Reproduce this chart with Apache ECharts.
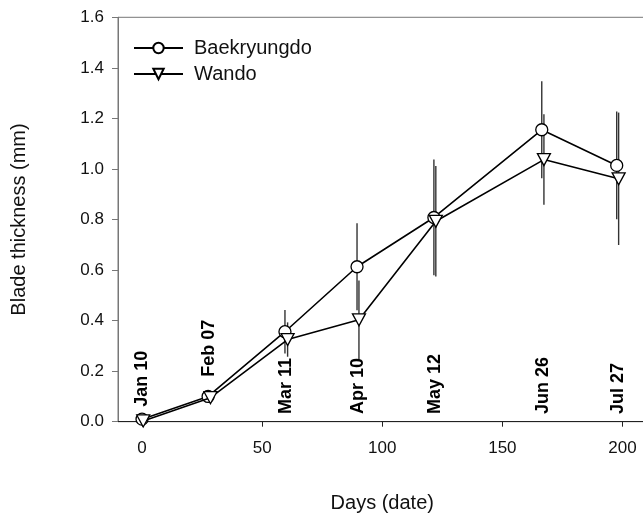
<!DOCTYPE html>
<html><head><meta charset="utf-8">
<script src="https://cdn.jsdelivr.net/npm/echarts@6/dist/echarts.min.js"></script>
<style>html,body{margin:0;padding:0;background:#fff}#c{width:643px;height:517px}</style>
</head><body><div id="c"></div>
<script>
const dateLabels = ['Jan 10','Feb 07','Mar 11','Apr 10','May 12','Jun 26','Jul 27'];
const dateDays = [0,28,60,90,122,167,198];
const dateLabelY = [0.059,0.178,0.03,0.03,0.03,0.03,0.03];
const baekDays = [0,27.5,59.5,89.5,121.5,166.4,197.6];
const baekMean = [0.01,0.10,0.356,0.613,0.808,1.155,1.014];
const baekErr  = [0.004,0.01,0.086,0.172,0.229,0.192,0.213];
const wandoDays = [0.5,28.5,60.6,90.3,122.3,167.3,198.4];
const wandoMean = [0.003,0.095,0.325,0.403,0.793,1.037,0.961];
const wandoErr  = [0.004,0.01,0.068,0.156,0.219,0.179,0.262];
const xTicks = [0,50,100,150,200];

const FONT = '"Liberation Sans", Arial, sans-serif';
const chart = echarts.init(document.getElementById('c'), null, {renderer:'canvas'});

function errSeries(name, days, mean, err) {
  return {
    type:'custom', name: name + ' err', z:1, silent:true,
    data: days.map((d,i)=>[d, mean[i]-err[i], mean[i]+err[i]]),
    encode:{x:0, y:[1,2]},
    renderItem(params, api){
      const p1 = api.coord([api.value(0), api.value(1)]);
      const p2 = api.coord([api.value(0), api.value(2)]);
      return {type:'line', shape:{x1:p1[0], y1:p1[1], x2:p2[0], y2:p2[1]},
              style:{stroke:'#333', lineWidth:1.4}};
    }
  };
}

const option = {
  animation:false,
  textStyle:{fontFamily:FONT},
  grid:{left:118, right:-3.5, top:17.3, bottom:95.3, show:true, borderColor:'#777', borderWidth:1, containLabel:false, outerBoundsMode:'none'},
  legend:{
    data:['Baekryungdo','Wando'], orient:'vertical', left:128, top:33, itemWidth:49, itemHeight:13, itemGap:6,
    textStyle:{fontSize:20, color:'#111', fontFamily:FONT, padding:[0,0,0,6]}
  },
  xAxis:{
    type:'value', min:-10, max:210,
    splitLine:{show:false},
    axisLine:{onZero:false, lineStyle:{color:'#222', width:1}},
    axisTick:{show:true, customValues:xTicks, length:5, lineStyle:{color:'#222'}},
    axisLabel:{customValues:xTicks, fontSize:17, color:'#111', margin:18, fontFamily:FONT},
    name:'Days (date)', nameLocation:'middle', nameGap:72,
    nameTextStyle:{fontSize:20, color:'#111', fontFamily:FONT}
  },
  yAxis:{
    type:'value', min:0, max:1.6, interval:0.2,
    splitLine:{show:false},
    axisLine:{show:true, onZero:false, lineStyle:{color:'#777', width:1}},
    axisTick:{show:true, length:6, lineStyle:{color:'#777'}},
    axisLabel:{formatter:v=>v.toFixed(1), fontSize:17, color:'#111', margin:14, fontFamily:FONT},
    name:'Blade thickness (mm)', nameLocation:'middle', nameGap:89, nameRotate:90,
    nameTextStyle:{fontSize:20, color:'#111', fontFamily:FONT}
  },
  series:[
    errSeries('Baekryungdo', baekDays, baekMean, baekErr),
    errSeries('Wando', wandoDays, wandoMean, wandoErr),
    {
      type:'line', name:'Baekryungdo', z:3,
      data: baekDays.map((d,i)=>[d, baekMean[i]]),
      symbol:'circle', symbolSize:12,
      lineStyle:{color:'#000', width:1.6},
      itemStyle:{color:'#fff', borderColor:'#000', borderWidth:1.3}
    },
    {
      type:'line', name:'Wando', z:4,
      data: wandoDays.map((d,i)=>[d, wandoMean[i]]),
      symbol:'triangle', symbolRotate:180, symbolSize:[13,12],
      lineStyle:{color:'#000', width:1.6},
      itemStyle:{color:'#fff', borderColor:'#000', borderWidth:1.3}
    },
    {
      type:'custom', name:'dates', z:5, silent:true,
      data: dateDays.map((d,i)=>[d, dateLabelY[i], i]),
      encode:{x:0, y:1},
      renderItem(params, api){
        const p = api.coord([api.value(0), api.value(1)]);
        return {type:'text', x:p[0], y:p[1], rotation:Math.PI/2,
          style:{text:dateLabels[api.value(2)], font:'bold 18px "Liberation Sans", Arial, sans-serif',
                 fill:'#000', align:'left', verticalAlign:'middle'}};
      }
    }
  ]
};
chart.setOption(option);
</script>
</body></html>
